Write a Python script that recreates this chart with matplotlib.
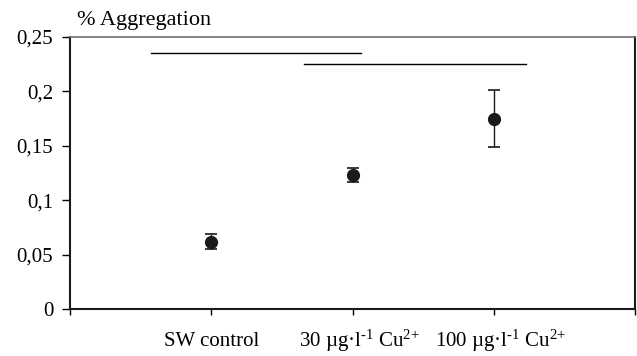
import matplotlib
matplotlib.use('Agg')
import matplotlib.pyplot as plt
from matplotlib.transforms import ScaledTranslation

# data
groups = ['SW control', r'30 µg·l$^{\text{-1}}$ Cu$^{\text{2+}}$', r'100 µg·l$^{\text{-1}}$ Cu$^{\text{2+}}$']
positions = [1, 2, 3]
means = [0.062, 0.123, 0.175]
errors = [0.0065, 0.0063, 0.026]

# significance bars: (x start, x end, height)
sig_x0 = [0.57, 1.66]
sig_x1 = [2.06, 3.23]
sig_y = [0.235, 0.225]

yticks = [0, 0.05, 0.1, 0.15, 0.2, 0.25]
ylabels = ['0', '0,05', '0,1', '0,15', '0,2', '0,25']

plt.rcParams['font.family'] = ['Liberation Serif', 'DejaVu Serif']
plt.rcParams['mathtext.fontset'] = 'custom'
plt.rcParams['mathtext.rm'] = 'Liberation Serif'
plt.rcParams['mathtext.it'] = 'Liberation Serif:italic'

fig = plt.figure(figsize=(6.37, 3.56), dpi=100)
ax = fig.add_axes([70 / 637, 1 - 309 / 356, 565 / 637, 272 / 356])

ax.errorbar(positions, means, yerr=errors, fmt='o', color='#1a1a1a',
            markersize=8.5, capsize=4.5, elinewidth=1, capthick=1.2)

for x0, x1, y in zip(sig_x0, sig_x1, sig_y):
    ax.plot([x0, x1], [y, y], color='black', lw=1)

ax.set_xlim(0, 4)
ax.set_ylim(0, 0.25)
ax.set_yticks(yticks)
ax.set_yticklabels(ylabels, fontsize=15)
ax.set_xticks([0, 1, 2, 3, 4])
ax.set_xticklabels([''] + groups + [''], fontsize=15)

ax.tick_params(axis='y', direction='out', length=6, width=1, pad=6)
ax.tick_params(axis='x', direction='out', length=4, width=1, pad=23)

# align all category labels on one baseline; the ones with superscripts
# sit a little right of their ticks in the original
for i, lab in enumerate(ax.get_xticklabels()):
    lab.set_verticalalignment('baseline')
    if i in (2, 3):
        lab.set_transform(lab.get_transform() + ScaledTranslation(0.07, 0, fig.dpi_scale_trans))

for side in ['left', 'bottom', 'right']:
    ax.spines[side].set_color('#1a1a1a')
    ax.spines[side].set_linewidth(1.5)
ax.spines['top'].set_color('#707070')
ax.spines['top'].set_linewidth(1.2)

fig.text(77 / 637, 1 - 20 / 356, '% Aggregation', fontsize=16, va='center', ha='left')

fig.savefig('out.png', dpi=100)
